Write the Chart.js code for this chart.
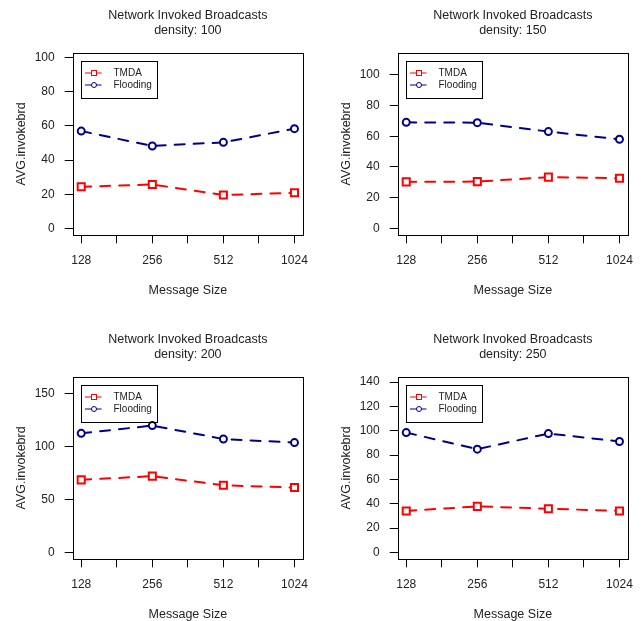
<!DOCTYPE html>
<html>
<head>
<meta charset="utf-8">
<script src="https://cdn.jsdelivr.net/npm/chart.js@4.4.1/dist/chart.umd.min.js"></script>
<style>
  html, body { margin: 0; padding: 0; background: #fff; }
  body { width: 641px; height: 621px; overflow: hidden; position: relative; }
  canvas { position: absolute; }
</style>
</head>
<body>
<canvas id="c1" width="325" height="324" style="left:0;top:0"></canvas>
<canvas id="c2" width="325" height="324" style="left:325px;top:0"></canvas>
<canvas id="c3" width="325" height="324" style="left:0;top:324px"></canvas>
<canvas id="c4" width="325" height="324" style="left:325px;top:324px"></canvas>
<script>
// x categories and panel densities
const msgSizes = ['128', '256', '512', '1024'];
const densities = [100, 150, 200, 250];

// series values
const tmda100 = [24.4, 25.8, 19.6, 20.9];
const flood100 = [57.0, 48.3, 50.4, 58.4];
const tmda150 = [30.3, 30.5, 33.4, 32.7];
const flood150 = [69.0, 68.8, 63.0, 58.0];
const tmda200 = [68.7, 72.2, 63.6, 61.4];
const flood200 = [112.7, 120.0, 107.3, 103.9];
const tmda250 = [34.1, 37.9, 36.0, 34.1];
const flood250 = [98.5, 84.9, 97.7, 91.2];

// y tick labels and upper y limits per panel
const yTicks100 = [0, 20, 40, 60, 80, 100];
const yTicks150 = [0, 20, 40, 60, 80, 100];
const yTicks200 = [0, 50, 100, 150];
const yTicks250 = [0, 20, 40, 60, 80, 100, 120, 140];
const yLimits = [99, 110, 160, 139];

const FONT = "'Liberation Sans', Arial, Helvetica, sans-serif";
const TEXT = '#222';
const RED = '#ff0000';
const BLUE = '#00008b';

/**
 * Box round the plot region plus an R style legend in the top left corner
 */
const framePlugin = {
    id: 'frame',
    afterDatasetsDraw(chart) {
        const { ctx, chartArea } = chart;
        const l = Math.round(chartArea.left) + 0.5;
        const t = Math.round(chartArea.top) + 0.5;
        const r = Math.round(chartArea.right) + 0.5;
        const b = Math.round(chartArea.bottom) + 0.5;
        ctx.save();
        ctx.strokeStyle = '#000';
        ctx.lineWidth = 1;
        ctx.strokeRect(l, t, r - l, b - t);

        // legend
        const bx = Math.round(chartArea.left + 8.5) + 0.5;
        const by = Math.round(chartArea.top + 8) + 0.5;
        ctx.strokeRect(bx, by, 76, 37);
        ctx.font = '10px ' + FONT;
        ctx.textBaseline = 'middle';
        ctx.textAlign = 'left';
        chart.data.datasets.forEach((ds, i) => {
            const y = by + 11.5 + i * 12;
            ctx.strokeStyle = ds.borderColor;
            ctx.lineWidth = 1;
            ctx.beginPath();
            ctx.moveTo(bx + 3.5, y);
            ctx.lineTo(bx + 20, y);
            ctx.stroke();
            ctx.fillStyle = '#fff';
            if (ds.pointStyle === 'rect') {
                ctx.fillRect(bx + 10, y - 2.5, 5, 5);
                ctx.strokeRect(bx + 10, y - 2.5, 5, 5);
            } else {
                ctx.beginPath();
                ctx.arc(bx + 12.5, y, 2.5, 0, Math.PI * 2);
                ctx.fill();
                ctx.stroke();
            }
            ctx.fillStyle = TEXT;
            ctx.fillText(ds.label, bx + 32, y);
        });
        ctx.restore();
    }
};

function toPoints(values) {
    return values.map((v, i) => ({ x: i + 1, y: v }));
}

function makeChart(id, density, tmda, flood, yTicks, yTop) {
    const yPad = yTop * 0.04;
    return new Chart(document.getElementById(id), {
        type: 'line',
        data: {
            datasets: [
                {
                    label: 'TMDA',
                    data: toPoints(tmda),
                    borderColor: RED,
                    backgroundColor: RED,
                    pointStyle: 'rect',
                    pointRadius: 5,
                    pointBorderWidth: 2,
                    pointBackgroundColor: '#fff',
                    borderWidth: 2,
                    borderDash: [10, 9],
                    borderCapStyle: 'round'
                },
                {
                    label: 'Flooding',
                    data: toPoints(flood),
                    borderColor: BLUE,
                    backgroundColor: BLUE,
                    pointStyle: 'circle',
                    pointRadius: 3.5,
                    pointBorderWidth: 2,
                    pointBackgroundColor: '#fff',
                    borderWidth: 2,
                    borderDash: [10, 9],
                    borderCapStyle: 'round'
                }
            ]
        },
        options: {
            responsive: false,
            animation: false,
            events: [],
            layout: { padding: { left: 0, right: 22, top: 0, bottom: 0 } },
            plugins: {
                legend: { display: false },
                tooltip: { enabled: false },
                title: {
                    display: true,
                    fullSize: false,
                    text: ['Network Invoked Broadcasts', 'density: ' + density],
                    color: TEXT,
                    font: { family: FONT, size: 12.5, weight: 'normal', lineHeight: 1.2 },
                    padding: { top: 8.5, bottom: 14 }
                }
            },
            scales: {
                x: {
                    type: 'linear',
                    min: 0.88,
                    max: 4.12,
                    afterBuildTicks: (scale) => {
                        scale.ticks = [1, 1.5, 2, 2.5, 3, 3.5, 4].map(v => ({ value: v }));
                    },
                    afterFit: (scale) => { scale.height = 88.7; },
                    grid: { drawOnChartArea: false, drawTicks: true, tickLength: 8, color: '#000', tickColor: '#000' },
                    border: { display: false },
                    ticks: {
                        autoSkip: false,
                        maxRotation: 0,
                        padding: 10,
                        color: TEXT,
                        font: { family: FONT, size: 12 },
                        callback: (v) => Number.isInteger(v) ? msgSizes[v - 1] : ''
                    },
                    title: {
                        display: true,
                        text: 'Message Size',
                        color: TEXT,
                        font: { family: FONT, size: 12.5, lineHeight: 1.2 },
                        padding: { top: 0, bottom: 26 }
                    }
                },
                y: {
                    type: 'linear',
                    min: -yPad,
                    max: yTop + yPad,
                    afterBuildTicks: (scale) => {
                        scale.ticks = yTicks.map(v => ({ value: v }));
                    },
                    afterFit: (scale) => { scale.width = 72.7; },
                    grid: { drawOnChartArea: false, drawTicks: true, tickLength: 8, color: '#000', tickColor: '#000' },
                    border: { display: false },
                    ticks: {
                        padding: 10,
                        color: TEXT,
                        font: { family: FONT, size: 12 }
                    },
                    title: {
                        display: true,
                        text: 'AVG.invokebrd',
                        color: TEXT,
                        font: { family: FONT, size: 12.5, lineHeight: 1.2 },
                        padding: { top: 14.5, bottom: 0 }
                    }
                }
            }
        },
        plugins: [framePlugin]
    });
}

makeChart('c1', densities[0], tmda100, flood100, yTicks100, yLimits[0]);
makeChart('c2', densities[1], tmda150, flood150, yTicks150, yLimits[1]);
makeChart('c3', densities[2], tmda200, flood200, yTicks200, yLimits[2]);
makeChart('c4', densities[3], tmda250, flood250, yTicks250, yLimits[3]);
</script>
</body>
</html>
